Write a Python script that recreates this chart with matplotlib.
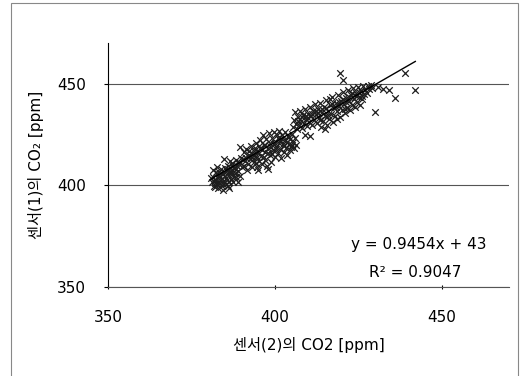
import numpy as np
import matplotlib
matplotlib.use("Agg")
import matplotlib.pyplot as plt
from matplotlib.patches import Rectangle

plt.rcParams['font.family'] = ['DejaVu Sans', 'Noto Sans CJK KR']

# sensor(2) CO2 -> x, sensor(1) CO2 -> y
low_x = [381.0, 381.5, 381.8, 382.0, 382.3, 382.5, 382.9, 383.0, 383.2, 383.5,
         383.7, 384.0, 384.1, 384.4, 384.6, 384.9, 385.0, 385.2, 385.5, 385.7,
         386.0, 386.1, 386.3, 386.5, 386.8, 387.0, 387.2, 387.5, 387.7, 388.0,
         388.2, 388.4, 388.7, 389.0, 389.2, 389.5, 389.8, 390.0, 380.8, 381.3,
         384.7, 382.6, 386.6, 388.9, 385.8, 384.5,
         381.9, 382.8, 383.4, 384.3, 384.8, 385.4, 386.2, 386.9, 387.6, 388.3,
         389.1, 383.1, 385.9, 387.3, 382.1]
low_y = [401.5, 404.0, 399.5, 402.8, 406.5, 400.8, 403.5, 398.5, 405.0, 401.0,
         407.8, 403.2, 399.8, 405.6, 401.9, 408.5, 404.4, 400.5, 406.8, 402.7,
         409.5, 404.9, 398.7, 407.2, 403.0, 410.8, 405.5, 401.5, 408.3, 406.0,
         412.5, 403.8, 409.6, 407.0, 411.5, 404.5, 413.5, 409.0, 403.5, 407.5,
         413.0, 408.8, 411.8, 401.8, 399.8, 397.5,
         401.2, 404.6, 402.4, 400.6, 406.7, 403.6, 401.8, 406.3, 404.2, 408.0,
         410.2, 406.4, 407.9, 409.3, 398.9]

mid_x = [390.3, 390.6, 390.8, 391.0, 391.3, 391.5, 391.8, 392.0, 392.3, 392.6,
         392.9, 393.1, 393.4, 393.6, 393.9, 394.1, 394.4, 394.6, 394.9, 395.1,
         395.4, 395.6, 395.9, 396.1, 396.4, 396.6, 396.9, 397.1, 397.4, 397.6,
         397.9, 398.1, 398.4, 398.6, 398.9, 399.1, 399.4, 399.6, 399.9, 400.1,
         400.4, 400.6, 400.9, 401.1, 401.4, 401.6, 401.9, 402.1, 402.4, 402.6,
         402.9, 403.1, 403.4, 403.6, 403.9, 404.1, 404.4, 404.6, 404.9, 405.1,
         405.4, 405.7, 406.0, 406.3, 389.6, 398.0, 395.0,
         391.2, 392.1, 393.0, 393.8, 394.7, 395.3, 396.2, 397.0, 397.8, 398.8,
         399.7, 400.3, 401.2, 402.0, 402.8, 403.7, 404.3, 405.2, 399.0, 396.8,
         394.3, 400.8]
mid_y = [413.0, 416.5, 409.5, 411.8, 418.0, 407.5, 414.5, 410.5, 416.8, 412.8,
         419.5, 409.2, 415.5, 411.6, 418.2, 413.8, 420.8, 408.8, 416.5, 412.0,
         422.0, 418.5, 414.6, 410.2, 424.5, 420.0, 416.2, 412.5, 422.8, 409.3,
         418.3, 425.5, 414.8, 420.8, 411.5, 423.4, 417.2, 426.2, 413.9, 421.0,
         419.0, 424.5, 415.8, 426.8, 422.3, 418.0, 413.5, 424.8, 420.2, 416.3,
         426.0, 422.0, 418.5, 414.8, 424.0, 420.5, 417.5, 422.8, 419.0, 425.0,
         421.2, 418.3, 423.0, 420.0, 419.0, 407.8, 407.5,
         413.6, 415.1, 413.9, 416.8, 414.1, 419.4, 417.3, 419.6, 416.0, 418.9,
         420.4, 417.6, 420.9, 422.6, 419.1, 421.2, 423.6, 419.9, 415.4, 413.7,
         411.1, 423.0]

high_x = [405.5, 405.8, 406.0, 406.3, 406.6, 406.9, 407.2, 407.5, 407.8, 408.1,
          408.4, 408.7, 409.0, 409.3, 409.6, 409.9, 410.2, 410.5, 410.8, 411.1,
          411.4, 411.7, 412.0, 412.3, 412.6, 412.9, 413.2, 413.5, 413.8, 414.1,
          414.4, 414.7, 415.0, 415.3, 415.6, 415.9, 416.2, 416.5, 416.8, 417.1,
          417.4, 417.7, 418.0, 418.3, 418.6, 418.9, 419.2, 419.5, 419.8, 420.1,
          420.4, 420.7, 421.0, 421.3, 421.6, 421.9, 422.2, 422.5, 422.8, 423.1,
          423.4, 423.7, 424.0, 424.3, 424.6, 424.9, 425.2, 425.5, 425.8, 426.1,
          426.4, 426.7, 427.0, 427.4, 427.8, 428.2, 428.6, 429.0, 415.0,
          407.0, 408.0, 409.2, 410.0, 411.0, 412.2, 413.0, 414.0, 415.2, 416.0,
          417.0, 418.1, 419.0, 420.2, 421.2, 422.1, 423.0, 424.1, 425.0, 426.0,
          418.4, 420.8, 413.6, 416.6]
high_y = [428.5, 432.0, 435.8, 430.0, 427.5, 433.5, 429.6, 436.5, 431.8, 428.2,
          434.6, 430.8, 437.6, 432.8, 428.9, 435.2, 431.0, 438.5, 433.8, 429.5,
          436.4, 432.2, 439.8, 434.9, 430.5, 437.3, 433.0, 440.6, 428.6, 435.8,
          431.6, 438.4, 434.0, 441.8, 429.8, 436.7, 432.7, 439.5, 435.0, 443.5,
          431.2, 437.9, 434.2, 440.6, 436.3, 444.6, 438.8, 433.6, 441.5, 437.0,
          446.0, 439.8, 435.4, 443.0, 438.2, 447.0, 441.2, 436.8, 444.3, 439.6,
          447.8, 442.4, 438.4, 445.5, 441.0, 448.5, 443.6, 439.5, 446.2, 442.4,
          448.8, 444.8, 447.0, 445.5, 448.6, 447.3, 449.2, 448.0, 427.8,
          431.4, 433.3, 434.1, 433.2, 435.0, 436.3, 435.4, 437.7, 438.1, 434.4,
          439.7, 438.6, 440.7, 442.5, 440.8, 443.6, 445.2, 443.8, 445.9, 444.0,
          432.6, 437.6, 432.2, 442.3]

outlier_x = [409.0, 410.5, 419.5, 420.4, 430.0, 430.8, 432.3, 434.0, 436.0, 439.0, 442.0]
outlier_y = [424.7, 424.0, 455.3, 451.5, 436.0, 448.5, 447.5, 447.0, 443.0, 455.0, 447.0]

# trendline shown on the chart
slope, intercept = 0.9454, 43
r_squared = 0.9047

x_all = np.array(low_x + mid_x + high_x + outlier_x)
y_all = np.array(low_y + mid_y + high_y + outlier_y)

fig = plt.figure(figsize=(5.3, 3.76), dpi=100)
ax = fig.add_axes([0.204, 0.237, 0.756, 0.649])

ax.scatter(x_all, y_all, marker='x', s=22, c='#1e1e1e', linewidths=0.9, zorder=3)

xl = np.array([x_all.min(), x_all.max()])
ax.plot(xl, slope * xl + intercept, color='black', lw=1.0, zorder=4)

ax.set_xlim(350, 470)
ax.set_ylim(350, 470)
ax.set_xticks([350, 400, 450])
ax.set_yticks([350, 400, 450])
ax.yaxis.grid(True, color='#555555', lw=0.8)
ax.set_axisbelow(True)
for s in ['top', 'right']:
    ax.spines[s].set_visible(False)
ax.spines['left'].set_color('black')
ax.spines['bottom'].set_color('#555555')
ax.tick_params(axis='both', labelsize=11, length=3, width=0.8)
ax.tick_params(axis='x', pad=15, direction='inout')
ax.tick_params(axis='y', pad=13)

ax.set_xlabel('센서(2)의 CO2 [ppm]', fontsize=11, labelpad=9)
ax.set_ylabel('센서(1)의 CO₂ [ppm]', fontsize=11, labelpad=9)

ax.text(0.776, 0.172, f'y = {slope}x + {intercept}', transform=ax.transAxes,
        ha='center', va='center', fontsize=11)
ax.text(0.766, 0.057, f'R² = {r_squared}', transform=ax.transAxes,
        ha='center', va='center', fontsize=11)

fig.patches.append(Rectangle((0.021, -0.01), 0.957, 1.002, transform=fig.transFigure,
                             fill=False, edgecolor='#888888', lw=0.8))

fig.savefig('out.png', dpi=100)
